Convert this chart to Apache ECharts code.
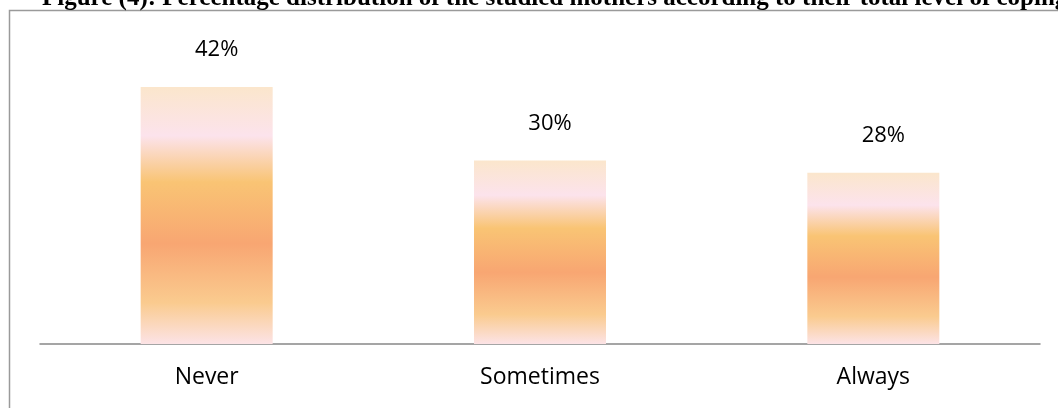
<!DOCTYPE html>
<html>
<head>
<meta charset="utf-8">
<script src="https://cdn.jsdelivr.net/npm/echarts@6/dist/echarts.min.js"></script>
<style>
html,body{margin:0;padding:0;background:#fff;}
#chart{width:1058px;height:408px;}
</style>
</head>
<body>
<div id="chart"></div>
<script>
const titleText = 'Figure (4): Percentage distribution of the studied mothers according to their total level of coping';
const categories = ['Never', 'Sometimes', 'Always'];
const values = [42, 30, 28];

const chart = echarts.init(document.getElementById('chart'), null, {renderer: 'canvas'});
const barGradient = new echarts.graphic.LinearGradient(0, 0, 0, 1, [
  {offset: 0, color: '#FBE6CC'},
  {offset: 0.19, color: '#FCE3EC'},
  {offset: 0.37, color: '#F9C474'},
  {offset: 0.61, color: '#F8A672'},
  {offset: 0.84, color: '#FACB8F'},
  {offset: 1, color: '#FCE3E6'}
]);
chart.setOption({
  animation: false,
  backgroundColor: '#ffffff',
  graphic: [
    {type: 'rect', shape: {x: 9.5, y: 10.5, width: 1100, height: 500}, style: {fill: 'none', stroke: '#9a9a9a', lineWidth: 1.5}, z: 0},
    {type: 'text', x: 42, y: 11, style: {text: titleText, font: 'bold 25px "Liberation Serif"', fill: '#000', textVerticalAlign: 'bottom'}, z: 10}
  ],
  grid: {left: 40, right: 18, top: 38, bottom: 64},
  xAxis: {
    type: 'category',
    data: categories,
    axisLine: {lineStyle: {color: '#888', width: 1.5}},
    axisTick: {show: false},
    axisLabel: {color: '#000', fontFamily: 'Open Sans', fontSize: 23, margin: 22}
  },
  yAxis: {
    type: 'value', min: 0, max: 50,
    axisLine: {show: false}, axisTick: {show: false}, axisLabel: {show: false}, splitLine: {show: false}
  },
  series: [{
    type: 'bar',
    data: values,
    barWidth: 132,
    itemStyle: {color: barGradient},
    label: {
      show: true, position: 'top', distance: 26, offset: [10, 0],
      formatter: '{c}%', color: '#000', fontFamily: 'Open Sans', fontSize: 22
    }
  }]
});
</script>
</body>
</html>
